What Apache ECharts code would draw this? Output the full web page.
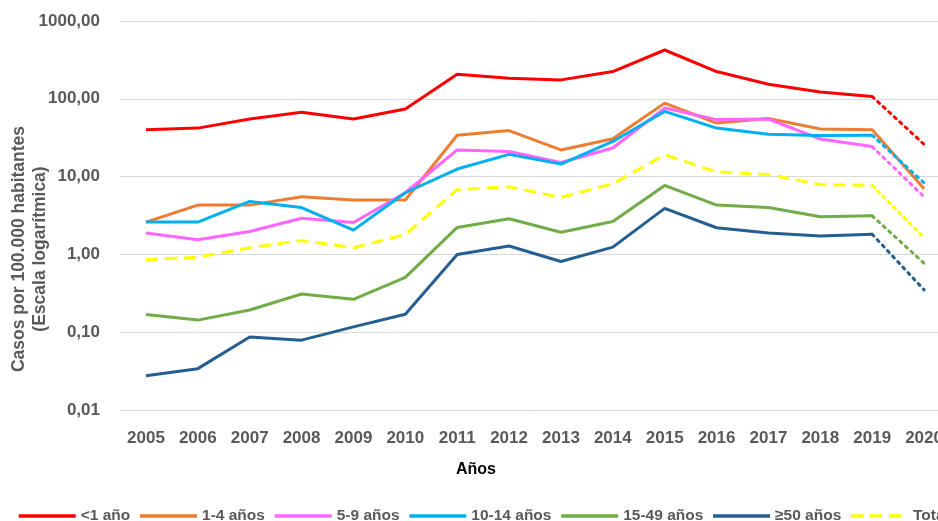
<!DOCTYPE html>
<html>
<head>
<meta charset="utf-8">
<script src="https://cdn.jsdelivr.net/npm/echarts@6/dist/echarts.min.js"></script>
<style>
html,body{margin:0;padding:0;background:#fff;}
#chart{width:938px;height:521px;}
</style>
</head>
<body>
<div id="chart"></div>
<script>
const years = ['2005','2006','2007','2008','2009','2010','2011','2012','2013','2014','2015','2016','2017','2018','2019','2020'];
const menor1 = [40, 42, 55, 67, 55, 74, 207, 184, 175, 224, 424, 224, 154, 122, 107, 26];
const anios1_4 = [2.6, 4.3, 4.3, 5.5, 5.0, 5.0, 34, 39, 22, 30.7, 88, 48.8, 56, 40.8, 40, 7.0];
const anios5_9 = [1.88, 1.54, 1.97, 2.92, 2.57, 6.2, 22, 21, 15.2, 23.3, 76, 54, 55, 30.4, 24.3, 5.5];
const anios10_14 = [2.6, 2.6, 4.8, 4.0, 2.05, 6.2, 12.5, 19.3, 14.5, 28.3, 69, 42, 35, 33.8, 34, 8.3];
const anios15_49 = [0.169, 0.143, 0.193, 0.31, 0.265, 0.507, 2.22, 2.87, 1.93, 2.65, 7.7, 4.3, 4.0, 3.04, 3.13, 0.77];
const mayor50 = [0.0275, 0.034, 0.087, 0.079, 0.117, 0.17, 1.0, 1.28, 0.81, 1.24, 3.9, 2.2, 1.88, 1.72, 1.82, 0.35];
const total = [0.855, 0.92, 1.22, 1.51, 1.22, 1.8, 6.8, 7.4, 5.4, 8.1, 19.1, 11.5, 10.6, 7.9, 7.7, 1.64];

const seriesDefs = [
  {name: '<1 año', data: menor1, color: '#FF0000', type: 'solid', dotLast: true},
  {name: '1-4 años', data: anios1_4, color: '#ED7D31', type: 'solid', dotLast: false},
  {name: '5-9 años', data: anios5_9, color: '#FF66FF', type: 'solid', dotLast: true},
  {name: '10-14 años', data: anios10_14, color: '#00B0F0', type: 'solid', dotLast: true},
  {name: '15-49 años', data: anios15_49, color: '#70AD47', type: 'solid', dotLast: true},
  {name: '≥50 años', data: mayor50, color: '#255E91', type: 'solid', dotLast: true},
  {name: 'Total', data: total, color: '#FFFF00', type: [12, 7], dotLast: true}
];

const series = [];
seriesDefs.forEach(function(d){
  const n = d.data.length;
  const main = d.dotLast ? d.data.map(function(v,i){ return i < n-1 ? v : null; }) : d.data.slice();
  series.push({
    name: d.name, type: 'line', data: main, symbol: 'none', smooth: false,
    lineStyle: {color: d.color, width: 3, type: d.type},
    itemStyle: {color: d.color}
  });
  if (d.dotLast) {
    series.push({
      name: d.name + ' (2020)', type: 'line', symbol: 'none',
      data: d.data.map(function(v,i){ return i >= n-2 ? v : null; }),
      lineStyle: {color: d.color, width: 3, type: [2.5, 5], cap: 'round'},
      itemStyle: {color: d.color}
    });
  }
});

const chart = echarts.init(document.getElementById('chart'));
const labelFont = 'Liberation Sans, Arial, sans-serif';
chart.setOption({
  animation: false,
  backgroundColor: '#ffffff',
  grid: {left: 120, top: 21, width: 830, height: 389, containLabel: false, outerBoundsMode: 'none'},
  xAxis: {
    type: 'category', data: years, boundaryGap: true,
    axisLine: {show: false}, axisTick: {show: false},
    axisLabel: {color: '#595959', fontSize: 17, fontWeight: 'bold', fontFamily: labelFont, margin: 20, interval: 0}
  },
  yAxis: {
    type: 'log', logBase: 10, min: 0.01, max: 1000,
    axisLine: {show: false}, axisTick: {show: false},
    splitLine: {lineStyle: {color: '#D9D9D9', width: 1}},
    axisLabel: {color: '#595959', fontSize: 17, fontWeight: 'bold', fontFamily: labelFont, margin: 20,
      formatter: function(v){ return Number(v).toFixed(2).replace('.', ','); }}
  },
  legend: {
    data: seriesDefs.map(function(d){ return d.name; }),
    left: 17, top: 508, width: 1400, orient: 'horizontal', padding: 0,
    itemWidth: 57, itemHeight: 1, itemGap: 8,
    itemStyle: {color: 'rgba(0,0,0,0)', borderWidth: 0},
    lineStyle: {width: 3.5},
    textStyle: {color: '#595959', fontSize: 15.5, fontWeight: 'bold', fontFamily: labelFont}
  },
  graphic: [
    {type: 'text', x: 19, y: 249, rotation: Math.PI/2,
      style: {text: 'Casos por 100.000 habitantes', fill: '#595959', font: 'bold 17.5px ' + labelFont, textAlign: 'center', textVerticalAlign: 'middle'}},
    {type: 'text', x: 40, y: 249, rotation: Math.PI/2,
      style: {text: '(Escala logarítmica)', fill: '#595959', font: 'bold 17.5px ' + labelFont, textAlign: 'center', textVerticalAlign: 'middle'}},
    {type: 'text', x: 476, y: 470,
      style: {text: 'Años', fill: '#000000', font: 'bold 16px ' + labelFont, textAlign: 'center', textVerticalAlign: 'middle'}}
  ],
  series: series
});
</script>
</body>
</html>
